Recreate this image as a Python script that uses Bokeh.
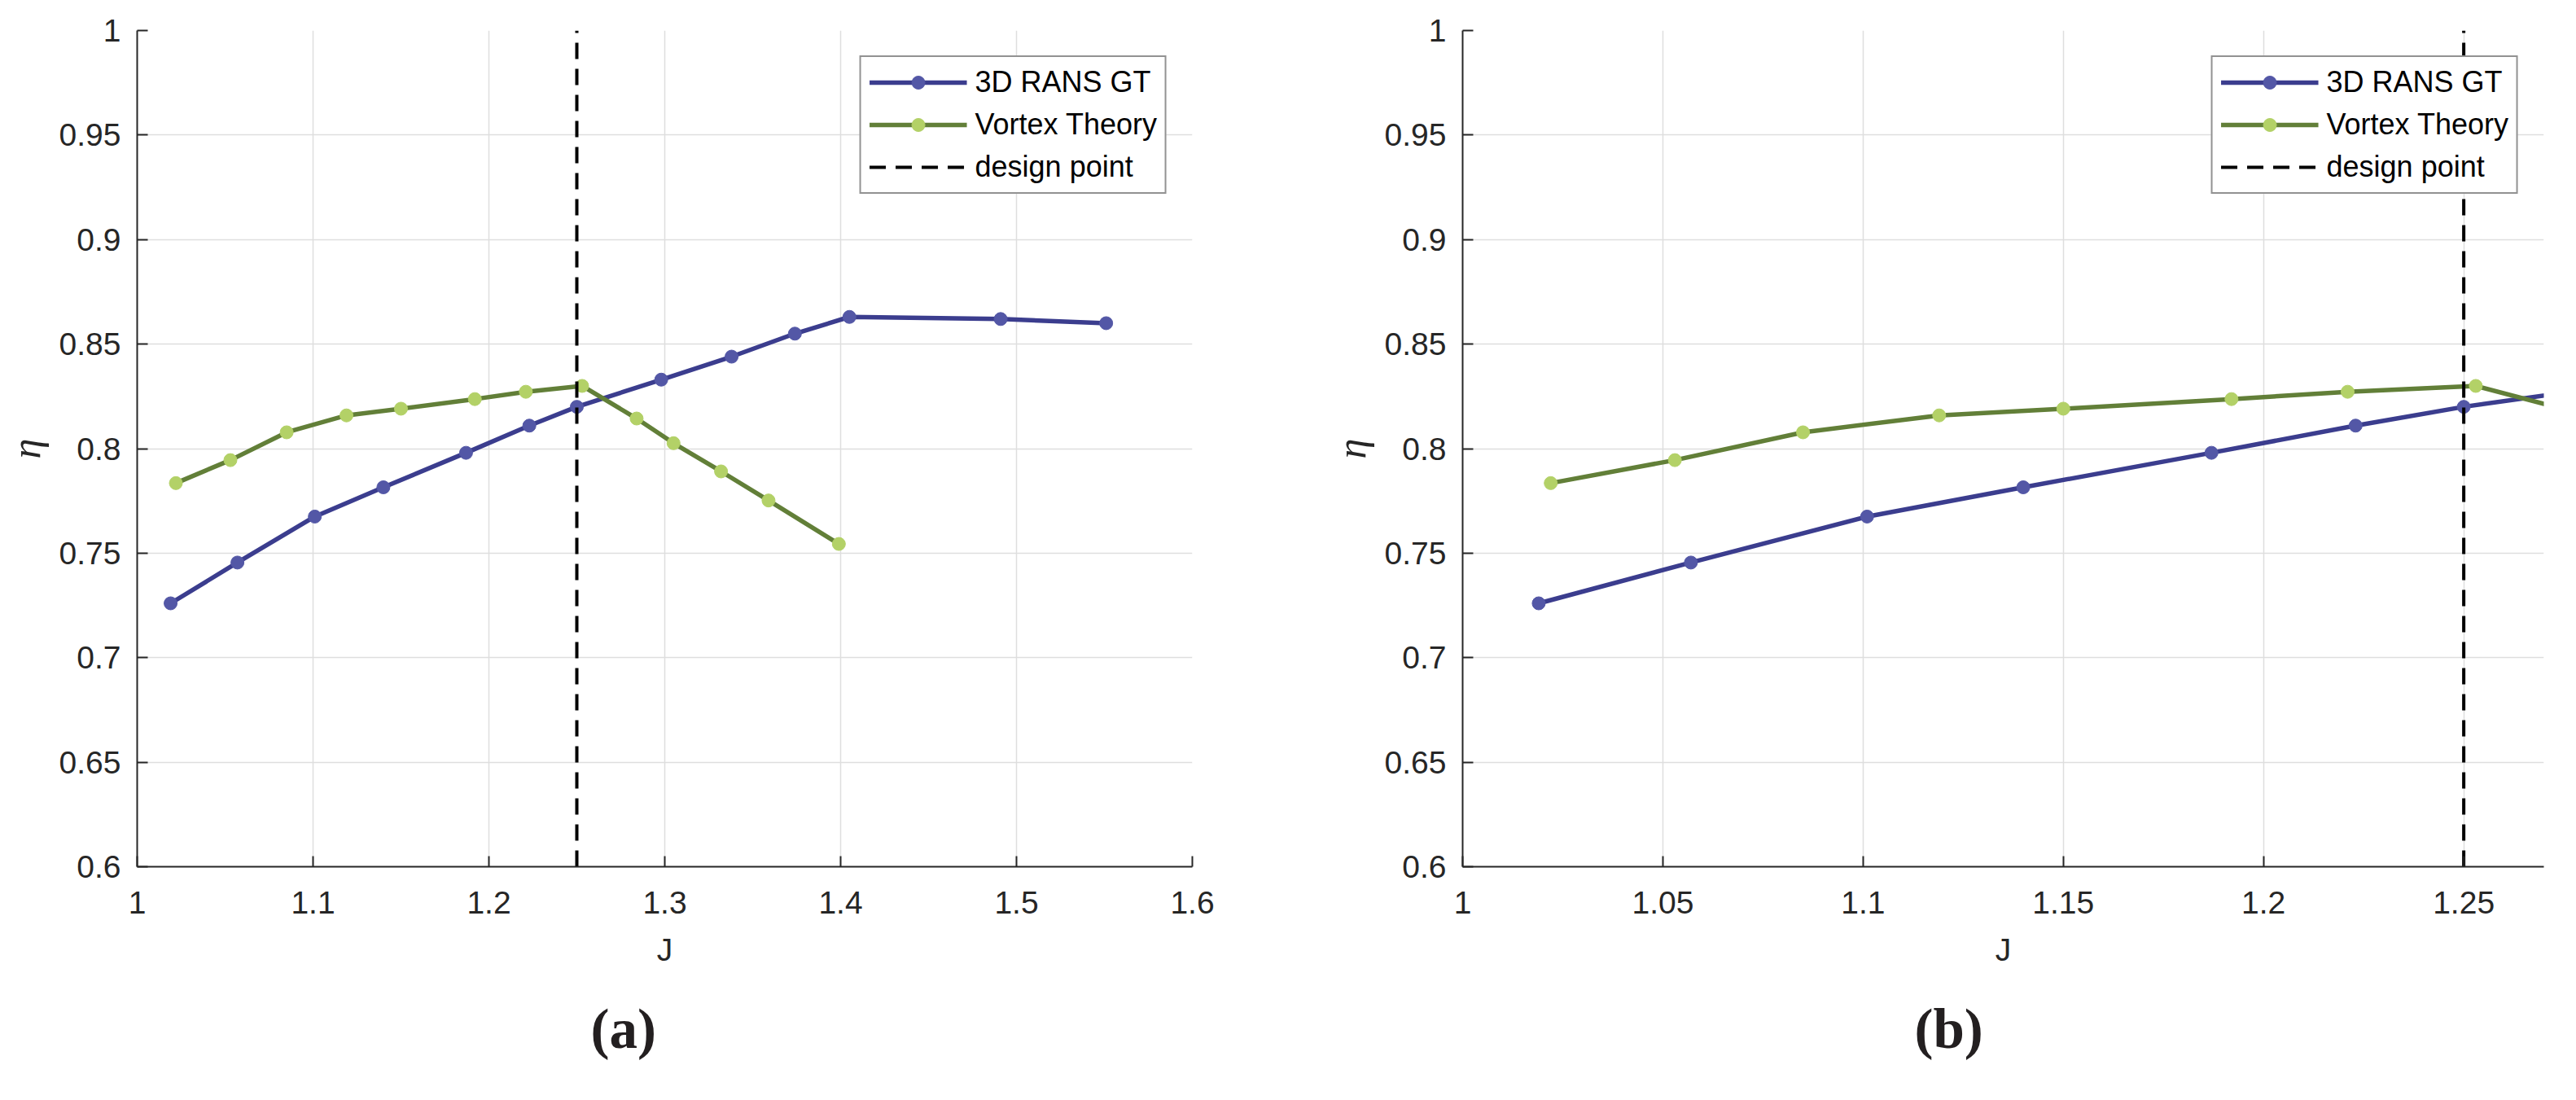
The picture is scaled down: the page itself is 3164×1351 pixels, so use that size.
from bokeh.plotting import figure
from bokeh.layouts import row
from bokeh.models import FixedTicker, Legend, LegendItem, Title
from bokeh.embed import file_html
from bokeh.resources import INLINE

# ---- data ----
J_rans = [1.019, 1.057, 1.101, 1.140, 1.187, 1.223, 1.250, 1.298, 1.338, 1.374, 1.405, 1.491, 1.551]
eta_rans = [0.726, 0.7455, 0.7675, 0.7815, 0.798, 0.811, 0.820, 0.833, 0.844, 0.855, 0.863, 0.862, 0.860]
J_vortex = [1.022, 1.053, 1.085, 1.119, 1.150, 1.192, 1.221, 1.253, 1.284, 1.305, 1.332, 1.359, 1.399]
eta_vortex = [0.7835, 0.7945, 0.8078, 0.8159, 0.8191, 0.8237, 0.8272, 0.830, 0.8144, 0.8026, 0.7891, 0.7752, 0.7544]
design_J = 1.25

y_ticks = [0.6, 0.65, 0.7, 0.75, 0.8, 0.85, 0.9, 0.95, 1.0]
y_tick_labels = ["0.6", "0.65", "0.7", "0.75", "0.8", "0.85", "0.9", "0.95", "1"]
xa_ticks = [1.0, 1.1, 1.2, 1.3, 1.4, 1.5, 1.6]
xa_tick_labels = ["1", "1.1", "1.2", "1.3", "1.4", "1.5", "1.6"]
xb_ticks = [1.0, 1.05, 1.1, 1.15, 1.2, 1.25]
xb_tick_labels = ["1", "1.05", "1.1", "1.15", "1.2", "1.25"]

series_names = ["3D RANS GT", "Vortex Theory", "design point"]
captions = ["(a)", "(b)"]

BLUE_LINE = "#3B3D8E"
BLUE_MARK = "#5357A6"
GREEN_LINE = "#627F38"
GREEN_MARK = "#B3D167"
TXT = "#262626"
GRID = "#DEDEDE"


def make_panel(xr, x_ticks, x_labels, width, height, b_left, b_right, b_top, b_bottom, caption, cap_offset):
    p = figure(width=width, height=height, x_range=xr, y_range=(0.6, 1.0),
               output_backend="svg", toolbar_location=None,
               min_border_left=b_left, min_border_right=b_right,
               min_border_top=b_top, min_border_bottom=b_bottom)
    p.outline_line_color = None
    p.background_fill_color = "white"
    p.border_fill_color = "white"

    xt = FixedTicker(ticks=x_ticks)
    yt = FixedTicker(ticks=y_ticks)
    p.xaxis.ticker = xt
    p.yaxis.ticker = yt
    p.xgrid.ticker = xt
    p.ygrid.ticker = yt
    p.xaxis.major_label_overrides = dict(zip(x_ticks, x_labels))
    p.yaxis.major_label_overrides = dict(zip(y_ticks, y_tick_labels))
    for ax in (p.xaxis, p.yaxis):
        ax.axis_line_color = TXT
        ax.axis_line_width = 2
        ax.major_tick_line_color = TXT
        ax.major_tick_line_width = 2
        ax.major_tick_in = 13
        ax.major_tick_out = 0
        ax.minor_tick_line_color = None
        ax.major_label_text_font = "Liberation Sans"
        ax.major_label_text_font_size = "39px"
        ax.major_label_text_color = TXT
        ax.axis_label_text_color = TXT
    p.xaxis.major_label_standoff = 30
    p.yaxis.major_label_standoff = 20
    p.xaxis.axis_label = "J"
    p.xaxis.axis_label_text_font = "Liberation Sans"
    p.xaxis.axis_label_text_font_style = "normal"
    p.xaxis.axis_label_text_font_size = "39px"
    p.xaxis.axis_label_standoff = 20
    p.yaxis.axis_label = "η"
    p.yaxis.axis_label_text_font = "Liberation Serif"
    p.yaxis.axis_label_text_font_style = "italic"
    p.yaxis.axis_label_text_font_size = "50px"
    p.yaxis.axis_label_standoff = 10

    for g in (p.xgrid, p.ygrid):
        g.grid_line_color = GRID
        g.grid_line_width = 1.5

    r1l = p.line(J_rans, eta_rans, line_color=BLUE_LINE, line_width=5.5)
    r1m = p.scatter(J_rans, eta_rans, size=16, fill_color=BLUE_MARK, line_color=BLUE_MARK)
    r2l = p.line(J_vortex, eta_vortex, line_color=GREEN_LINE, line_width=5.5)
    r2m = p.scatter(J_vortex, eta_vortex, size=16, fill_color=GREEN_MARK, line_color=GREEN_MARK)
    r3 = p.segment(x0=[design_J], y0=[p.y_range.start], x1=[design_J], y1=[p.y_range.end],
                   line_color="black", line_width=4, line_dash="20 12")

    legend = Legend(items=[
        LegendItem(label=series_names[0], renderers=[r1l, r1m]),
        LegendItem(label=series_names[1], renderers=[r2l, r2m]),
        LegendItem(label=series_names[2], renderers=[r3]),
    ], location="top_right")
    legend.margin = 31
    legend.padding = 10
    legend.spacing = 10
    legend.glyph_width = 120
    legend.glyph_height = 40
    legend.label_height = 40
    legend.label_standoff = 10
    legend.label_text_font = "Liberation Sans"
    legend.label_text_font_size = "36px"
    legend.label_text_color = "black"
    legend.border_line_color = "#262626"
    legend.border_line_width = 2
    legend.background_fill_color = "white"
    legend.background_fill_alpha = 1.0
    p.add_layout(legend, "center")

    cap = Title(text=caption, align="left", offset=cap_offset, standoff=66,
                text_font="Liberation Serif", text_font_style="bold",
                text_font_size="69px", text_color="#231F20")
    p.add_layout(cap, "below")
    return p


p1 = make_panel((1.0, 1.6), xa_ticks, xa_tick_labels, 1620, 1343, 160, 156, 37, 278,
                captions[0], 557)
p2 = make_panel((1.0, 1.27), xb_ticks, xb_tick_labels, 1536, 1343, 176, 32, 16, 279,
                captions[1], 555)

layout = row(p1, p2)
open("out.html", "w").write(file_html(layout, INLINE))
